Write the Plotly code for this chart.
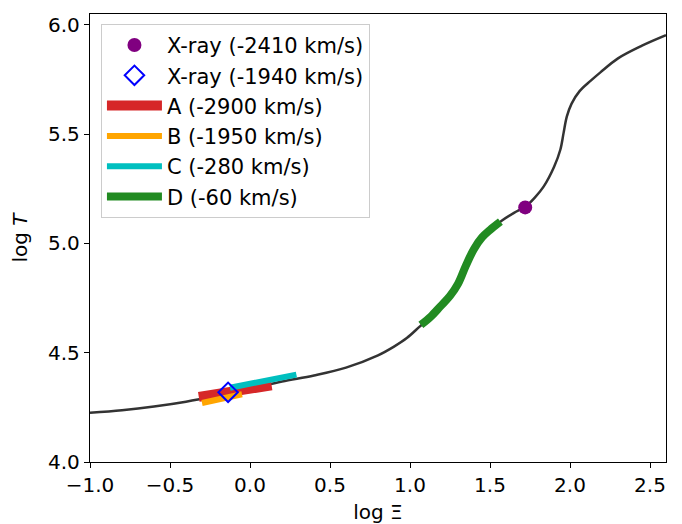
import plotly.graph_objects as go

# Main stability curve (log Xi, log T)
curve_x = [-1.0, -0.8, -0.6, -0.4, -0.2, 0.0, 0.2, 0.4, 0.6, 0.8, 0.9, 0.98, 1.064, 1.13, 1.19,
           1.25, 1.30, 1.35, 1.40, 1.45, 1.50, 1.575, 1.65, 1.72, 1.78, 1.835, 1.90, 1.94, 1.96,
           1.98, 2.01, 2.06, 2.13, 2.19, 2.30, 2.45, 2.6]
curve_y = [4.225, 4.237, 4.254, 4.276, 4.304, 4.335, 4.368, 4.396, 4.432, 4.488, 4.528, 4.567, 4.622,
           4.665, 4.712, 4.76, 4.815, 4.90, 4.975, 5.028, 5.062, 5.105, 5.14, 5.168, 5.21, 5.26,
           5.35, 5.43, 5.506, 5.58, 5.64, 5.697, 5.745, 5.783, 5.847, 5.905, 5.953]

# Components
a_x = [-0.32, 0.135]
a_y = [4.298, 4.351]
b_x = [-0.30, -0.05]
b_y = [4.270, 4.310]
c_x = [-0.125, 0.29]
c_y = [4.340, 4.400]
d_x = [1.068, 1.13, 1.19, 1.25, 1.30, 1.35, 1.40, 1.45, 1.50, 1.565]
d_y = [4.627, 4.665, 4.712, 4.76, 4.815, 4.90, 4.975, 5.028, 5.062, 5.100]

# X-ray points
xr1_x, xr1_y = [1.72], [5.165]
xr2_x, xr2_y = [-0.137], [4.319]

fig = go.Figure()
fig.add_trace(go.Scatter(x=curve_x, y=curve_y, mode="lines", showlegend=False,
                         line=dict(color="#333333", width=2.5, shape="spline", smoothing=1),
                         hoverinfo="skip"))
fig.add_trace(go.Scatter(x=d_x, y=d_y, mode="lines", name="D (-60 km/s)",
                         line=dict(color="#228b22", width=8, shape="spline", smoothing=1),
                         legendrank=6, legendgroup="d"))
fig.add_trace(go.Scatter(x=a_x, y=a_y, mode="lines", name="A (-2900 km/s)",
                         line=dict(color="#d62728", width=10),
                         legendrank=3, legendgroup="a"))
fig.add_trace(go.Scatter(x=b_x, y=b_y, mode="lines", name="B (-1950 km/s)",
                         line=dict(color="#ffa500", width=6),
                         legendrank=4, legendgroup="b"))
fig.add_trace(go.Scatter(x=c_x, y=c_y, mode="lines", name="C (-280 km/s)",
                         line=dict(color="#00bfbf", width=6),
                         legendrank=5, legendgroup="c"))
fig.add_trace(go.Scatter(x=xr1_x, y=xr1_y, mode="markers", name="X-ray (-2410 km/s)",
                         marker=dict(color="#800080", size=14, symbol="circle"),
                         legendrank=1, legendgroup="x1"))
fig.add_trace(go.Scatter(x=xr2_x, y=xr2_y, mode="markers", name="X-ray (-1940 km/s)",
                         marker=dict(color="blue", size=15, symbol="diamond-open",
                                     line=dict(color="blue", width=2)),
                         legendrank=2, legendgroup="x2"))

axis_common = dict(showline=True, linecolor="black", linewidth=1.3, mirror=True,
                   ticks="outside", ticklen=5, tickwidth=1.3, tickcolor="black",
                   showgrid=False, zeroline=False, automargin=False,
                   tickfont=dict(family="DejaVu Sans", size=20, color="black"))

# The page body adds an 8 px offset, so the figure is sized to fit the 682x524 window.
fig.update_layout(
    width=674, height=516,
    margin=dict(l=82, r=16, t=6, b=62),
    paper_bgcolor="white", plot_bgcolor="white",
    font=dict(family="DejaVu Sans", size=20, color="black"),
    xaxis=dict(range=[-1.0, 2.6], tickvals=[-1.0, -0.5, 0.0, 0.5, 1.0, 1.5, 2.0, 2.5],
               ticktext=["\u22121.0", "\u22120.5", "0.0", "0.5", "1.0", "1.5", "2.0", "2.5"],
               title=dict(text="log \u039e", standoff=12, font=dict(size=20)), **axis_common),
    yaxis=dict(range=[4.0, 6.05], tickvals=[4.0, 4.5, 5.0, 5.5, 6.0],
               ticktext=["4.0", "4.5", "5.0", "5.5", "6.0"],
               title=dict(text="log <i>T</i>", standoff=16, font=dict(size=20)), **axis_common),
    legend=dict(x=0.019, y=0.978, xanchor="left", yanchor="top",
                bgcolor="rgba(255,255,255,0.8)", bordercolor="#cccccc", borderwidth=1,
                font=dict(family="DejaVu Sans", size=21), tracegroupgap=0, itemwidth=55),
)

fig.write_html("out.html")
